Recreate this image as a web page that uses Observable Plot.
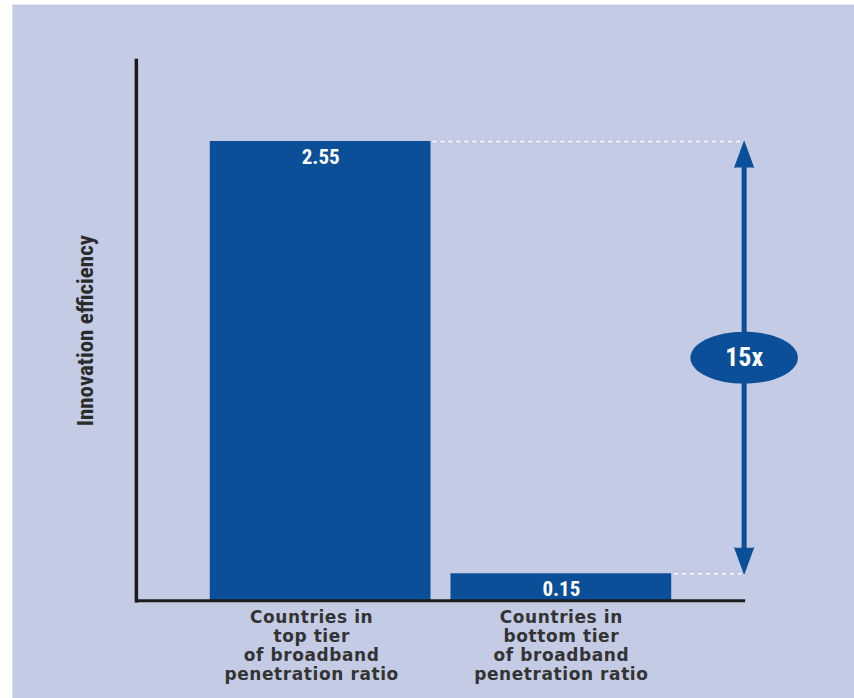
<!DOCTYPE html>
<html>
<head>
<meta charset="utf-8">
<script src="https://cdn.jsdelivr.net/npm/d3@7"></script>
<script src="https://cdn.jsdelivr.net/npm/@observablehq/plot@0.6"></script>
<style>
  html, body { margin: 0; padding: 0; background: #ffffff; }
  #wrap { position: absolute; left: 12px; top: 4px; width: 842px; height: 694px; background: #c4cbe5; border-left: 1px solid #d8dbe6; border-top: 1px solid #e4e6ee; box-sizing: border-box; }
  #chart svg { display: block; }
  #chart svg g[aria-label="x-axis tick label"] text { letter-spacing: 0.6px; }
</style>
</head>
<body>
<div id="wrap"><div id="chart"></div></div>
<script>
const categories = ["top", "bottom"];
const values = [2.55, 0.15];
const tickLabels = [
  "Countries in\ntop tier\nof broadband\npenetration ratio",
  "Countries in\nbottom tier\nof broadband\npenetration ratio"
];
const valueLabels = ["2.55", "0.15"];
const ratioLabel = "15x";
const yLabel = "Innovation efficiency";

const data = categories.map((c, i) => ({cat: c, value: values[i], label: tickLabels[i], text: valueLabels[i]}));

const W = 842, H = 694;
const mL = 123, mR = 109, mT = 55, mB = 98;
const blue = "#0b4f98";
const font = "'Liberation Sans Narrow', 'Roboto Condensed', 'DejaVu Sans Condensed', 'Liberation Sans', sans-serif";
const tickFont = "'DejaVu Sans', 'Liberation Sans', sans-serif";

const xOpts = {type: "band", domain: tickLabels, range: [mL, W - mR], paddingInner: 0.0826, paddingOuter: 0.3017, align: 0.5};
const xs = Plot.scale({x: xOpts});
const bw = xs.bandwidth;
const arrowX = W - mR - 1;
const arrowDx = arrowX - (xs.apply(tickLabels[1]) + bw / 2);

const hi = d3.max(values), lo = d3.min(values);
const mid = (hi + lo) / 2;

const dashMarks = data.map(d => Plot.ruleY([d], {
  y: "value",
  stroke: "white",
  strokeWidth: 1.5,
  strokeDasharray: "4,4",
  insetLeft: xs.apply(d.label) + bw - mL + 2,
  insetRight: W - mR - arrowX + 3
}));

const tickShift = [-9, 0];
const axisMarks = tickLabels.map((t, i) => Plot.axisX({
  ticks: [t], tickSize: 0, tickPadding: 9, dx: tickShift[i], fontSize: 17, lineHeight: 1.12,
  fontFamily: tickFont, fontWeight: "bold", fill: "#333333", label: null
}));

const ellipse = {
  draw(context, size) {
    const r = Math.sqrt(size / Math.PI);
    const rx = r * 2.07, ry = r, k = 0.5523;
    context.moveTo(rx, 0);
    context.bezierCurveTo(rx, ry * k, rx * k, ry, 0, ry);
    context.bezierCurveTo(-rx * k, ry, -rx, ry * k, -rx, 0);
    context.bezierCurveTo(-rx, -ry * k, -rx * k, -ry, 0, -ry);
    context.bezierCurveTo(rx * k, -ry, rx, -ry * k, rx, 0);
    context.closePath();
  }
};

const chart = Plot.plot({
  width: W,
  height: H,
  marginLeft: mL,
  marginRight: mR,
  marginTop: mT,
  marginBottom: mB,
  style: {fontFamily: font, background: "transparent", overflow: "visible"},
  x: {...xOpts, label: null, axis: null},
  y: {domain: [0, 3], axis: null},
  marks: [
    ...dashMarks,
    Plot.barY(data, {x: "label", y: "value", fill: blue}),
    Plot.text(data, {x: "label", y: "value", text: "text", dy: 16, fill: "white", fontWeight: "bold", fontSize: 21}),
    Plot.ruleX([{y1: hi, y2: lo}], {x: () => tickLabels[1], y1: "y1", y2: "y2", dx: arrowDx, stroke: blue, strokeWidth: 5, insetTop: 20, insetBottom: 20}),
    Plot.vector([{y: hi, rot: 0}, {y: lo, rot: 180}], {x: () => tickLabels[1], y: "y", dx: arrowDx, rotate: "rot", shape: "spike", length: 26, r: 9.5, anchor: "end", fill: blue, stroke: blue, strokeWidth: 1}),
    Plot.dot([{y: mid}], {x: () => tickLabels[1], y: "y", dx: arrowDx, r: 26, symbol: ellipse, fill: blue, stroke: "none"}),
    Plot.text([ratioLabel], {x: () => tickLabels[1], y: () => mid, text: d => d, dx: arrowDx, fill: "white", fontWeight: "bold", fontSize: 26}),
    Plot.ruleY([0], {stroke: "#1c1c1c", strokeWidth: 3}),
    Plot.frame({anchor: "left", stroke: "#1c1c1c", strokeWidth: 3.5}),
    ...axisMarks,
    Plot.text([yLabel], {frameAnchor: "left", textAnchor: "middle", text: d => d, dx: -51, rotate: -90, fontSize: 23, fontWeight: "bold", fill: "#2b2b2b"})
  ]
});
document.getElementById("chart").appendChild(chart);
</script>
</body>
</html>
